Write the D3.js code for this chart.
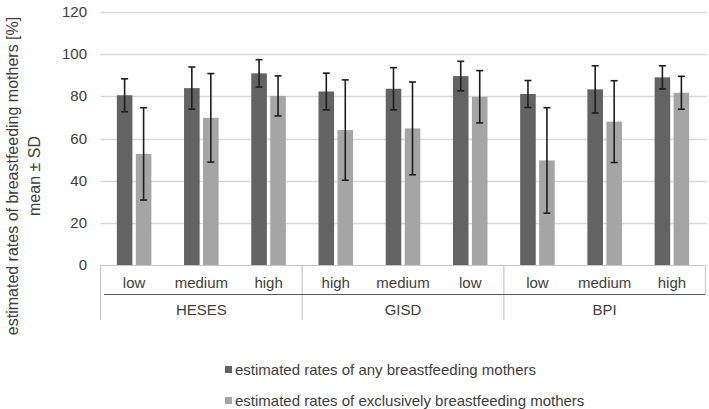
<!DOCTYPE html>
<html>
<head>
<meta charset="utf-8">
<script src="https://cdn.jsdelivr.net/npm/d3@7"></script>
<style>
  body { margin: 0; background: #fff; }
  text { font-family: "Liberation Sans", Arial, sans-serif; fill: #404040; }
</style>
</head>
<body>
<svg id="chart" width="709" height="409"></svg>
<script>
// data
var groups = ["HESES", "GISD", "BPI"];
var levels = {
  HESES: ["low", "medium", "high"],
  GISD: ["high", "medium", "low"],
  BPI: ["low", "medium", "high"]
};
var seriesNames = [
  "estimated rates of any breastfeeding mothers",
  "estimated rates of exclusively breastfeeding mothers"
];
// means, in order HESES low/med/high, GISD high/med/low, BPI low/med/high
var anyMean = [80.5, 83.9, 90.9, 82.3, 83.6, 89.6, 81.1, 83.3, 89.0];
var anySD   = [7.8, 10.0, 6.5, 8.7, 10.0, 7.0, 6.4, 11.2, 5.5];
var exclMean = [52.7, 69.8, 80.2, 64.0, 64.8, 79.8, 49.6, 68.0, 81.7];
var exclSD   = [21.9, 21.0, 9.5, 23.8, 22.0, 12.4, 25.0, 19.4, 7.8];
var yTicks = [0, 20, 40, 60, 80, 100, 120];

var colors = ["#636363", "#a5a5a5"];

var svg = d3.select("#chart");
var plotLeft = 100.5, plotRight = 705.5, plotTop = 12, plotBottom = 265;

var y = d3.scaleLinear().domain([0, 120]).range([plotBottom, plotTop]);
var xGroup = d3.scaleBand().domain(groups).range([plotLeft, plotRight]);
var xLevel = d3.scaleBand().domain([0, 1, 2]).range([0, xGroup.bandwidth()]);
var xSeries = d3.scaleBand().domain([0, 1]).range([0, xLevel.bandwidth()])
  .paddingInner(0.18).paddingOuter(0.86);

// flatten into rows
var rows = [];
groups.forEach(function(g, gi){
  levels[g].forEach(function(l, li){
    var i = gi * 3 + li;
    var cx = xGroup(g) + xLevel(li);
    rows.push({g: g, l: l, x: cx, vals: [
      {s: 0, m: anyMean[i], sd: anySD[i]},
      {s: 1, m: exclMean[i], sd: exclSD[i]}
    ]});
  });
});

// gridlines
svg.append("g").selectAll("line")
  .data(yTicks.filter(function(t){ return t > 0; }))
  .join("line")
  .attr("x1", plotLeft).attr("x2", 707)
  .attr("y1", function(d){ return Math.round(y(d)) + 0.5; })
  .attr("y2", function(d){ return Math.round(y(d)) + 0.5; })
  .attr("stroke", "#d9d9d9").attr("stroke-width", 1.3);

// y tick labels
svg.append("g").selectAll("text")
  .data(yTicks)
  .join("text")
  .attr("x", 87).attr("y", function(d){ return y(d) + 5; })
  .attr("text-anchor", "end").attr("font-size", 15)
  .text(function(d){ return d; });

// bars
var cat = svg.append("g").selectAll("g").data(rows).join("g")
  .attr("transform", function(d){ return "translate(" + d.x + ",0)"; });
cat.selectAll("rect").data(function(d){ return d.vals; }).join("rect")
  .attr("x", function(d){ return xSeries(d.s); })
  .attr("width", xSeries.bandwidth())
  .attr("y", function(d){ return y(d.m); })
  .attr("height", function(d){ return y(0) - y(d.m); })
  .attr("fill", function(d){ return colors[d.s]; });

// error bars
var eb = cat.selectAll("g.err").data(function(d){ return d.vals; }).join("g")
  .attr("class", "err")
  .attr("stroke", "#1e1e1e").attr("stroke-width", 1.6);
var cxOf = function(d){ return xSeries(d.s) + xSeries.bandwidth() / 2; };
eb.append("line")
  .attr("x1", cxOf).attr("x2", cxOf)
  .attr("y1", function(d){ return y(d.m + d.sd); })
  .attr("y2", function(d){ return y(d.m - d.sd); });
[1, -1].forEach(function(sign){
  eb.append("line")
    .attr("x1", function(d){ return cxOf(d) - 3.5; })
    .attr("x2", function(d){ return cxOf(d) + 3.5; })
    .attr("y1", function(d){ return y(d.m + sign * d.sd); })
    .attr("y2", function(d){ return y(d.m + sign * d.sd); });
});

// category axis box
var ax = svg.append("g");
ax.append("line").attr("x1", plotLeft).attr("x2", plotRight)
  .attr("y1", plotBottom + 0.5).attr("y2", plotBottom + 0.5)
  .attr("stroke", "#c8c8c8").attr("stroke-width", 1.2);
ax.selectAll("line.sep").data(groups.concat(["end"])).join("line")
  .attr("class", "sep")
  .attr("x1", function(d){ return d == "end" ? plotRight : xGroup(d); })
  .attr("x2", function(d){ return d == "end" ? plotRight : xGroup(d); })
  .attr("y1", plotBottom)
  .attr("y2", function(d){ return d == "end" ? 294 : 320; })
  .attr("stroke", "#c8c8c8").attr("stroke-width", 1.2);
ax.append("line").attr("x1", 104).attr("x2", plotRight)
  .attr("y1", 294.5).attr("y2", 294.5)
  .attr("stroke", "#595959").attr("stroke-width", 1);

ax.selectAll("text.lvl").data(rows).join("text")
  .attr("class", "lvl")
  .attr("x", function(d){ return d.x + xLevel.bandwidth() / 2; })
  .attr("y", 288)
  .attr("text-anchor", "middle").attr("font-size", 15)
  .text(function(d){ return d.l; });
ax.selectAll("text.grp").data(groups).join("text")
  .attr("class", "grp")
  .attr("x", function(d){ return xGroup(d) + xGroup.bandwidth() / 2; })
  .attr("y", 315)
  .attr("text-anchor", "middle").attr("font-size", 15)
  .text(function(d){ return d; });

// y axis title
var title = svg.append("text")
  .attr("transform", "translate(0,176) rotate(-90)")
  .attr("text-anchor", "middle").attr("font-size", 16);
title.append("tspan").attr("x", 0).attr("y", 18)
  .text("estimated rates of breastfeeding mothers [%]");
title.append("tspan").attr("x", 0).attr("y", 40).text("mean \u00b1 SD");

// legend
var lg = svg.append("g").selectAll("g").data(seriesNames).join("g")
  .attr("transform", function(d, i){ return "translate(225," + (366 + i * 31) + ")"; });
lg.append("rect").attr("width", 7).attr("height", 7)
  .attr("fill", function(d, i){ return colors[i]; });
lg.append("text").attr("x", 10).attr("y", 8.5).attr("font-size", 15)
  .text(function(d){ return d; });
</script>
</body>
</html>
